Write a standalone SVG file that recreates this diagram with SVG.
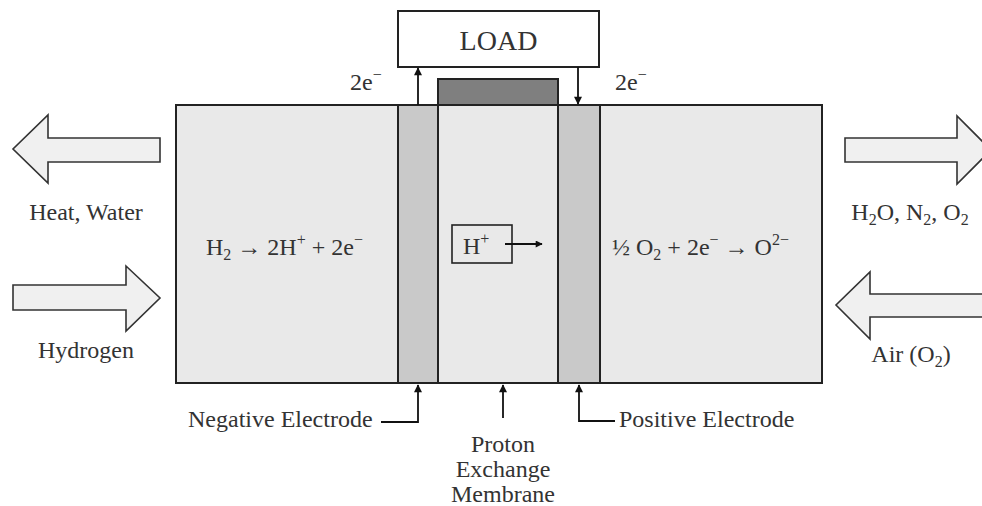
<svg xmlns="http://www.w3.org/2000/svg" width="982" height="506" viewBox="0 0 982 506">
<style>
text{font-family:"Liberation Serif","Times New Roman",serif;font-size:24px;fill:#333}
.box{stroke:#222;stroke-width:2}
.big{fill:#f0f0f0;stroke:#333;stroke-width:1.6}
.ln{stroke:#111;stroke-width:1.8;fill:none}
.sub{font-size:16px}
</style>
<defs>
<marker id="ah" viewBox="0 0 10 10" refX="9" refY="5" markerWidth="13" markerHeight="8" markerUnits="userSpaceOnUse" orient="auto"><path d="M0,0 L10,5 L0,10 z" fill="#111"/></marker>
<marker id="ah2" viewBox="0 0 10 10" refX="9" refY="5" markerWidth="13" markerHeight="7" markerUnits="userSpaceOnUse" orient="auto"><path d="M0,0 L10,5 L0,10 z" fill="#111"/></marker>
</defs>
<rect width="982" height="506" fill="#fff"/>
<g id="cell">
<rect class="box" x="176" y="105" width="646" height="278" fill="#e9e9e9"/>
</g>
<g id="negative-electrode"><rect class="box" x="398" y="105" width="40" height="278" fill="#c9c9c9"/></g>
<g id="positive-electrode"><rect class="box" x="558" y="105" width="42" height="278" fill="#c9c9c9"/></g>
<g id="membrane-top"><rect class="box" x="438" y="79" width="120" height="26" fill="#7f7f7f"/></g>
<g id="load"><rect class="box" x="398" y="11" width="201" height="56" fill="#fff"/><text x="498.5" y="50" text-anchor="middle" style="font-size:28px">LOAD</text></g>
<g id="e-left"><text x="350" y="90">2e<tspan class="sub" dy="-10">−</tspan></text></g>
<g id="e-right"><text x="615" y="90">2e<tspan class="sub" dy="-10">−</tspan></text></g>
<g id="heat-water">
<path class="big" d="M160,138 L48,138 L48,115 L13,149 L48,183 L48,162 L160,162 Z"/>
<text x="86" y="220" text-anchor="middle">Heat, Water</text>
</g>
<g id="hydrogen">
<path class="big" d="M13,285 L126,285 L126,266 L160,298 L126,331 L126,310 L13,310 Z"/>
<text x="86" y="358" text-anchor="middle">Hydrogen</text>
</g>
<g id="exhaust">
<path class="big" d="M845,138 L957,138 L957,116 L991,150 L957,184 L957,162 L845,162 Z"/>
<text x="910" y="220" text-anchor="middle">H<tspan class="sub" dy="5">2</tspan><tspan dy="-5">O, N</tspan><tspan class="sub" dy="5">2</tspan><tspan dy="-5">, O</tspan><tspan class="sub" dy="5">2</tspan></text>
</g>
<g id="air">
<path class="big" d="M995,294 L870,294 L870,272 L836,305 L870,339 L870,317 L995,317 Z"/>
<text x="911" y="362" text-anchor="middle">Air (O<tspan class="sub" dy="5">2</tspan><tspan dy="-5">)</tspan></text>
</g>
<g id="anode-reaction"><text x="206" y="255">H<tspan class="sub" dy="5">2</tspan><tspan dy="-5"> → 2H</tspan><tspan class="sub" dy="-10">+</tspan><tspan dy="10"> + 2e</tspan><tspan class="sub" dy="-10">−</tspan></text></g>
<g id="cathode-reaction"><text x="612" y="255">½ O<tspan class="sub" dy="5">2</tspan><tspan dy="-5"> + 2e</tspan><tspan class="sub" dy="-10">−</tspan><tspan dy="10"> → O</tspan><tspan class="sub" dy="-10">2−</tspan></text></g>
<g id="proton"><rect x="452" y="225" width="60" height="38" fill="none" stroke="#222" stroke-width="1.6"/><text x="463" y="254">H<tspan class="sub" dy="-10">+</tspan></text></g>
<g id="label-negative"><text x="188" y="427">Negative Electrode</text></g>
<g id="label-membrane"><text x="503" y="452" text-anchor="middle">Proton</text><text x="503" y="477" text-anchor="middle">Exchange</text><text x="503" y="502" text-anchor="middle">Membrane</text></g>
<g id="label-positive"><text x="619" y="427">Positive Electrode</text></g>
<g id="connectors">
<line class="ln" x1="418" y1="105" x2="418" y2="68" marker-end="url(#ah)"/>
<line class="ln" x1="578" y1="67" x2="578" y2="104" marker-end="url(#ah)"/>
<line class="ln" x1="505" y1="244" x2="542" y2="244" marker-end="url(#ah2)"/>
<polyline class="ln" points="381,422 418,422 418,385" marker-end="url(#ah)"/>
<line class="ln" x1="503" y1="418" x2="503" y2="385" marker-end="url(#ah)"/>
<polyline class="ln" points="615,421 579,421 579,385" marker-end="url(#ah)"/>
</g>
</svg>
